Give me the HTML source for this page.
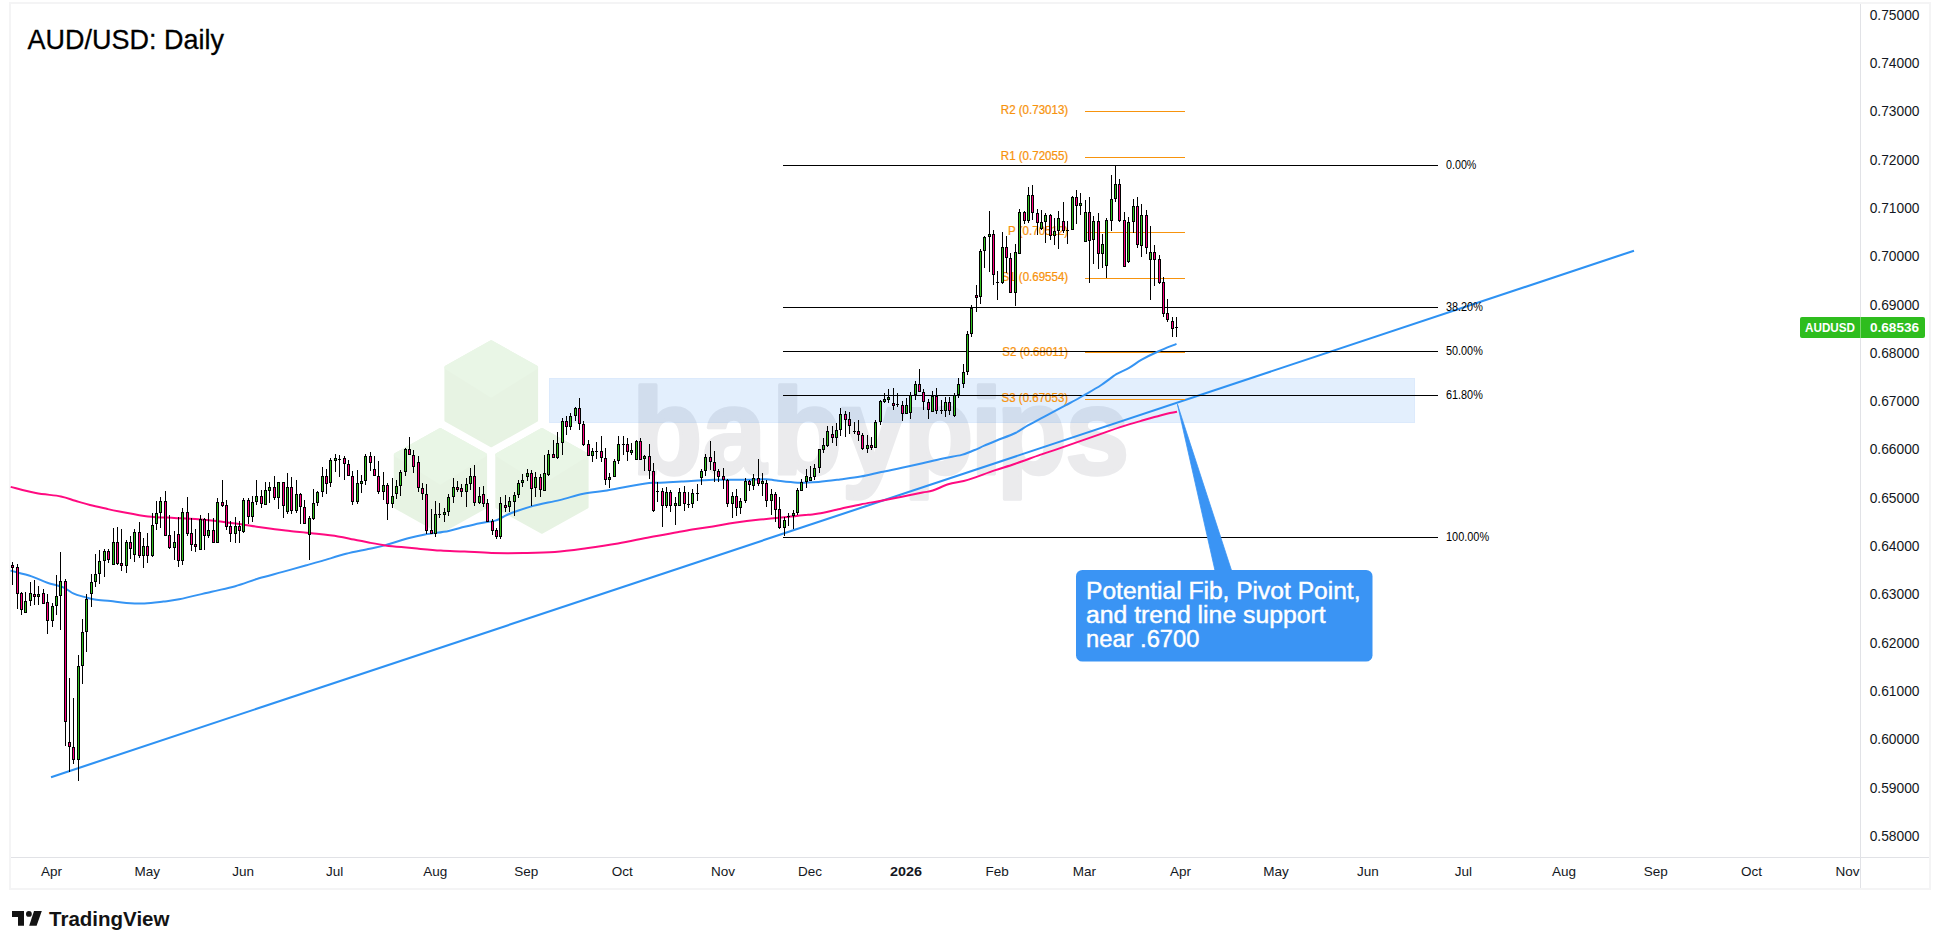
<!DOCTYPE html>
<html><head><meta charset="utf-8"><title>AUD/USD: Daily</title>
<style>html,body{margin:0;padding:0;background:#fff}body{width:1940px;height:949px;position:relative;overflow:hidden}</style></head>
<body>
<svg width="1940" height="949" viewBox="0 0 1940 949" style="position:absolute;left:0;top:0">
<g shape-rendering="crispEdges">
<rect x="9" y="2" width="1922" height="2" fill="#f4f4f5"/>
<rect x="9" y="888" width="1922" height="2" fill="#f4f4f5"/>
<rect x="9" y="2" width="2" height="888" fill="#f4f4f5"/>
<rect x="1929" y="2" width="2" height="888" fill="#f4f4f5"/>
<rect x="1860" y="4" width="1" height="884" fill="#e1e2e6"/>
<rect x="11" y="857" width="1918" height="1" fill="#e1e2e6"/>
</g>
<g>
<polygon points="491.2,342.1 536.3,367.4 536.3,420.2 491.2,445.5 446.2,420.2 446.2,367.4" fill="#e7f3e3" stroke="#e7f3e3" stroke-width="3.6" stroke-linejoin="round"/><polygon points="491.2,342.1 536.3,367.4 491.2,395.7 446.2,367.4" fill="#e9f6e6" stroke="#e9f6e6" stroke-width="3.6" stroke-linejoin="round"/>
<polygon points="440.3,429.8 485.3,454.8 485.3,507.0 440.3,532.0 395.6,507.0 395.6,454.8" fill="#e7f3e3" stroke="#e7f3e3" stroke-width="3.6" stroke-linejoin="round"/><polygon points="440.3,429.8 485.3,454.8 440.3,482.8 395.6,454.8" fill="#e9f6e6" stroke="#e9f6e6" stroke-width="3.6" stroke-linejoin="round"/>
<polygon points="541.9,429.8 586.8,454.8 586.8,507.0 541.9,532.0 497.1,507.0 497.1,454.8" fill="#e7f3e3" stroke="#e7f3e3" stroke-width="3.6" stroke-linejoin="round"/><polygon points="541.9,429.8 586.8,454.8 541.9,482.8 497.1,454.8" fill="#e9f6e6" stroke="#e9f6e6" stroke-width="3.6" stroke-linejoin="round"/>
</g>
<text id="wm" transform="translate(0,474.3) scale(0.944,1)" x="669.4 743.8 817.5 891.4 956.8 1028.1 1055.6 1128.4" y="0" font-family="'Liberation Sans', sans-serif" font-weight="bold" font-size="122" fill="#ebebed" stroke="#ebebed" stroke-width="3.5" stroke-linejoin="round">babypips</text>
<rect x="549" y="378" width="866" height="45" fill="#2c8af0" fill-opacity="0.135" shape-rendering="crispEdges"/>
<rect x="549.5" y="378.5" width="865" height="44" fill="none" stroke="#2c8af0" stroke-opacity="0.04" shape-rendering="crispEdges"/>
<text class="pl" transform="translate(1068.2,114.2) scale(0.963,1)" text-anchor="end" font-family="'Liberation Sans', sans-serif" font-size="12" fill="#f7930d" stroke="#f7930d" stroke-width="0.25">R2 (0.73013)</text>
<text class="pl" transform="translate(1068.2,160.4) scale(0.963,1)" text-anchor="end" font-family="'Liberation Sans', sans-serif" font-size="12" fill="#f7930d" stroke="#f7930d" stroke-width="0.25">R1 (0.72055)</text>
<text class="pl" transform="translate(1068.2,234.9) scale(0.963,1)" text-anchor="end" font-family="'Liberation Sans', sans-serif" font-size="12" fill="#f7930d" stroke="#f7930d" stroke-width="0.25">P (0.70512)</text>
<text class="pl" transform="translate(1068.2,281.2) scale(0.963,1)" text-anchor="end" font-family="'Liberation Sans', sans-serif" font-size="12" fill="#f7930d" stroke="#f7930d" stroke-width="0.25">S1 (0.69554)</text>
<text class="pl" transform="translate(1068.2,355.7) scale(0.963,1)" text-anchor="end" font-family="'Liberation Sans', sans-serif" font-size="12" fill="#f7930d" stroke="#f7930d" stroke-width="0.25">S2 (0.68011)</text>
<text class="pl" transform="translate(1068.2,402.0) scale(0.963,1)" text-anchor="end" font-family="'Liberation Sans', sans-serif" font-size="12" fill="#f7930d" stroke="#f7930d" stroke-width="0.25">S3 (0.67053)</text>
<line x1="51" y1="777.2" x2="1634" y2="250.7" stroke="#2e92f3" stroke-width="2.1"/>
<g shape-rendering="crispEdges">
<rect x="1085" y="111" width="100" height="1" fill="#f7930d"/>
<rect x="1085" y="157" width="100" height="1" fill="#f7930d"/>
<rect x="1085" y="232" width="100" height="1" fill="#f7930d"/>
<rect x="1085" y="278" width="100" height="1" fill="#f7930d"/>
<rect x="1085" y="352" width="100" height="1" fill="#f7930d"/>
<rect x="1085" y="399" width="100" height="1" fill="#f7930d"/>
<rect x="783" y="165" width="655" height="1" fill="#000"/>
<rect x="783" y="307" width="655" height="1" fill="#000"/>
<rect x="783" y="351" width="655" height="1" fill="#000"/>
<rect x="783" y="395" width="655" height="1" fill="#000"/>
<rect x="783" y="537" width="655" height="1" fill="#000"/>
</g>
<text class="fl" x="1446" y="169" font-family="'Liberation Sans', sans-serif" font-size="12" fill="#000" textLength="30.4" lengthAdjust="spacingAndGlyphs">0.00%</text>
<text class="fl" x="1446" y="311" font-family="'Liberation Sans', sans-serif" font-size="12" fill="#000" textLength="36.8" lengthAdjust="spacingAndGlyphs">38.20%</text>
<text class="fl" x="1446" y="355" font-family="'Liberation Sans', sans-serif" font-size="12" fill="#000" textLength="36.8" lengthAdjust="spacingAndGlyphs">50.00%</text>
<text class="fl" x="1446" y="399" font-family="'Liberation Sans', sans-serif" font-size="12" fill="#000" textLength="36.8" lengthAdjust="spacingAndGlyphs">61.80%</text>
<text class="fl" x="1446" y="541" font-family="'Liberation Sans', sans-serif" font-size="12" fill="#000" textLength="43.1" lengthAdjust="spacingAndGlyphs">100.00%</text>
<path d="M10.5,570.6 C14.0,571.6 25.5,574.4 31.6,576.4 C37.8,578.4 42.1,580.9 47.4,582.7 C52.7,584.5 58.8,585.6 63.2,587.4 C67.6,589.2 70.3,592.1 73.8,593.7 C77.3,595.3 80.8,595.9 84.3,596.9 C87.8,597.9 90.4,598.8 94.8,599.5 C99.2,600.2 105.3,600.5 110.6,601.1 C115.9,601.7 120.8,602.5 126.4,602.9 C132.0,603.3 138.2,603.7 144.4,603.5 C150.6,603.3 157.5,602.3 163.3,601.6 C169.1,600.9 171.1,600.9 179.1,599.3 C187.1,597.6 202.2,593.9 211.6,591.7 C221.0,589.5 227.4,588.4 235.3,586.2 C243.2,584.0 251.1,580.7 259.0,578.3 C266.9,575.9 274.8,574.1 282.7,571.9 C290.6,569.7 299.8,567.1 306.4,565.3 C313.0,563.5 315.6,562.8 322.2,560.9 C328.8,559.0 338.1,555.8 346.0,553.8 C353.9,551.8 363.1,550.2 369.7,548.7 C376.3,547.2 378.9,546.9 385.5,545.1 C392.1,543.3 402.6,539.8 409.2,538.0 C415.8,536.2 418.4,535.7 425.0,534.5 C431.6,533.3 442.1,532.2 448.7,530.9 C455.3,529.6 459.3,528.1 464.5,526.8 C469.7,525.5 474.9,524.2 480.0,523.2 C485.1,522.2 491.5,521.6 495.3,520.6 C499.1,519.6 500.2,518.3 503.0,517.0 C505.8,515.7 507.1,514.6 512.1,512.7 C517.1,510.9 525.3,508.0 533.2,505.9 C541.1,503.8 551.2,502.1 559.6,500.1 C568.0,498.1 575.5,495.3 583.4,493.7 C591.3,492.1 599.6,491.6 607.0,490.4 C614.4,489.2 621.0,487.6 628.0,486.4 C635.0,485.1 643.8,483.5 649.1,482.9 C654.4,482.3 654.6,483.0 660.0,482.8 C665.4,482.6 672.7,482.1 681.6,481.6 C690.5,481.1 702.7,480.1 713.2,479.8 C723.7,479.5 736.0,479.9 744.8,479.8 C753.6,479.7 760.6,479.1 765.9,479.2 C771.2,479.3 771.1,480.0 776.4,480.6 C781.7,481.2 790.5,482.5 797.5,482.7 C804.5,482.9 811.5,482.4 818.6,481.9 C825.7,481.3 833.0,480.3 840.0,479.4 C847.0,478.5 853.7,477.8 860.6,476.6 C867.5,475.4 874.3,473.5 881.2,472.0 C888.1,470.5 895.0,469.3 901.9,467.8 C908.8,466.3 915.6,464.8 922.5,463.2 C929.4,461.6 936.6,459.8 943.1,458.4 C949.6,457.0 956.5,456.2 961.6,454.9 C966.8,453.5 970.2,451.8 974.0,450.3 C977.8,448.8 980.5,447.3 984.3,445.7 C988.1,444.1 991.5,442.6 996.7,440.5 C1001.9,438.4 1010.1,435.5 1015.3,433.0 C1020.5,430.5 1023.1,428.1 1027.9,425.4 C1032.8,422.7 1038.1,420.0 1044.4,416.6 C1050.7,413.2 1059.4,408.7 1065.9,405.2 C1072.4,401.7 1077.7,398.9 1083.6,395.5 C1089.5,392.1 1095.8,388.6 1101.3,385.0 C1106.8,381.4 1111.8,377.1 1116.4,374.2 C1121.0,371.3 1124.9,370.3 1129.1,367.9 C1133.3,365.5 1136.9,362.4 1141.7,359.7 C1146.5,357.0 1152.3,354.1 1158.1,351.5 C1163.9,348.9 1173.4,345.2 1176.5,343.9" fill="none" stroke="#3594f3" stroke-width="2.0" stroke-linejoin="round" stroke-linecap="butt"/>
<path d="M10.7,486.9 C14.9,487.9 27.4,491.4 35.8,493.0 C44.2,494.6 54.3,495.1 60.9,496.4 C67.5,497.7 70.5,499.4 75.3,500.8 C80.1,502.2 84.6,503.6 90.0,505.0 C95.4,506.4 102.6,507.9 107.5,509.0 C112.4,510.1 112.8,510.2 119.5,511.4 C126.2,512.6 138.9,515.3 148.0,516.4 C157.1,517.5 166.4,517.5 174.3,517.9 C182.2,518.3 188.4,518.5 195.4,519.0 C202.4,519.5 209.4,520.1 216.4,520.9 C223.4,521.7 230.5,522.7 237.5,523.7 C244.5,524.7 252.4,526.1 258.6,527.0 C264.8,527.9 269.6,528.6 274.8,529.3 C280.0,530.0 283.9,530.4 290.0,531.1 C296.1,531.8 303.6,532.4 311.6,533.3 C319.6,534.2 330.9,535.4 338.0,536.4 C345.1,537.4 348.6,538.5 353.9,539.5 C359.2,540.5 364.4,541.7 369.7,542.7 C375.0,543.7 380.2,544.7 385.5,545.4 C390.8,546.1 396.0,546.6 401.3,547.1 C406.6,547.6 410.5,548.0 417.1,548.6 C423.7,549.2 432.9,550.1 440.8,550.6 C448.7,551.1 456.0,551.1 464.5,551.5 C473.0,551.9 481.8,552.8 491.6,553.0 C501.4,553.2 512.7,553.2 523.2,553.0 C533.7,552.8 544.3,552.7 554.8,551.9 C565.3,551.1 575.9,549.6 586.4,548.2 C596.9,546.8 607.5,545.3 618.0,543.5 C628.5,541.7 639.2,539.2 649.7,537.2 C660.2,535.2 674.2,532.9 681.3,531.6 C688.4,530.3 686.8,530.5 692.1,529.6 C697.4,528.8 705.9,527.6 712.9,526.5 C719.9,525.4 726.4,523.9 734.3,522.7 C742.1,521.6 751.2,520.5 760.0,519.6 C768.8,518.7 779.0,517.9 787.0,517.1 C795.0,516.3 802.7,515.4 808.0,514.8 C813.3,514.2 813.3,514.6 818.6,513.6 C823.9,512.6 833.0,510.4 840.0,508.9 C847.0,507.4 853.7,505.8 860.6,504.4 C867.5,503.0 874.3,502.1 881.2,500.8 C888.1,499.5 895.0,498.1 901.9,496.7 C908.8,495.3 917.4,493.6 922.5,492.6 C927.6,491.6 928.5,491.9 932.8,490.5 C937.1,489.1 943.1,485.9 948.2,484.3 C953.4,482.7 959.1,482.2 963.7,481.0 C968.4,479.8 971.0,478.9 976.1,477.1 C981.2,475.3 988.1,472.6 994.6,470.4 C1001.1,468.2 1007.7,466.3 1015.3,463.7 C1022.9,461.1 1032.5,457.5 1040.0,454.9 C1047.5,452.3 1050.2,451.6 1060.2,448.1 C1070.2,444.6 1090.3,437.6 1100.3,434.1 C1110.3,430.6 1113.6,429.3 1120.3,427.1 C1127.0,424.9 1133.6,423.0 1140.3,421.1 C1147.0,419.2 1155.3,416.8 1160.3,415.5 C1165.2,414.2 1167.2,413.7 1170.0,413.1 C1172.8,412.5 1175.8,412.0 1177.0,411.8" fill="none" stroke="#ff0a80" stroke-width="2.0" stroke-linejoin="round" stroke-linecap="butt"/>
<g shape-rendering="crispEdges"><path fill="#000" d="M12,562h1v23h-1zM17,564h1v45h-1zM21,592h1v23h-1zM25,592h1v21h-1zM30,582h1v24h-1zM34,580h1v25h-1zM38,586h1v19h-1zM43,589h1v15h-1zM47,594h1v40h-1zM52,603h1v24h-1zM56,575h1v40h-1zM60,552h1v78h-1zM65,579h1v167h-1zM69,678h1v94h-1zM73,698h1v66h-1zM78,655h1v126h-1zM82,619h1v65h-1zM86,594h1v58h-1zM91,574h1v33h-1zM95,554h1v33h-1zM99,550h1v34h-1zM104,549h1v28h-1zM108,549h1v14h-1zM113,528h1v37h-1zM117,527h1v38h-1zM121,529h1v42h-1zM126,540h1v33h-1zM130,536h1v23h-1zM134,529h1v33h-1zM139,522h1v36h-1zM143,538h1v30h-1zM147,533h1v30h-1zM152,513h1v44h-1zM156,501h1v29h-1zM160,497h1v31h-1zM165,491h1v45h-1zM169,515h1v34h-1zM174,531h1v29h-1zM178,517h1v50h-1zM182,508h1v57h-1zM187,497h1v39h-1zM191,518h1v33h-1zM195,529h1v23h-1zM200,515h1v35h-1zM204,518h1v32h-1zM208,513h1v25h-1zM213,518h1v25h-1zM217,498h1v45h-1zM222,480h1v27h-1zM226,500h1v30h-1zM230,521h1v21h-1zM235,517h1v26h-1zM239,521h1v22h-1zM243,498h1v35h-1zM248,498h1v26h-1zM252,496h1v26h-1zM256,480h1v25h-1zM261,490h1v18h-1zM265,482h1v23h-1zM269,482h1v21h-1zM274,476h1v24h-1zM278,482h1v27h-1zM283,482h1v36h-1zM287,473h1v41h-1zM291,477h1v37h-1zM296,480h1v33h-1zM300,493h1v31h-1zM304,500h1v24h-1zM309,516h1v44h-1zM313,489h1v31h-1zM317,491h1v15h-1zM322,467h1v30h-1zM326,469h1v25h-1zM330,458h1v29h-1zM335,454h1v18h-1zM339,455h1v22h-1zM344,456h1v24h-1zM348,460h1v16h-1zM352,471h1v34h-1zM357,470h1v34h-1zM361,475h1v18h-1zM365,454h1v31h-1zM370,452h1v19h-1zM374,456h1v20h-1zM378,461h1v33h-1zM383,472h1v28h-1zM387,483h1v37h-1zM392,478h1v30h-1zM396,480h1v19h-1zM400,470h1v26h-1zM405,448h1v28h-1zM409,437h1v18h-1zM413,450h1v23h-1zM418,456h1v36h-1zM422,483h1v17h-1zM426,484h1v50h-1zM431,509h1v25h-1zM435,501h1v36h-1zM439,503h1v15h-1zM444,508h1v14h-1zM448,494h1v22h-1zM453,478h1v25h-1zM457,481h1v11h-1zM461,484h1v13h-1zM466,478h1v29h-1zM470,468h1v22h-1zM474,465h1v41h-1zM479,487h1v17h-1zM483,486h1v21h-1zM487,499h1v23h-1zM492,519h1v16h-1zM496,528h1v11h-1zM500,497h1v42h-1zM505,495h1v17h-1zM509,497h1v15h-1zM514,492h1v24h-1zM518,480h1v18h-1zM522,474h1v13h-1zM527,469h1v12h-1zM531,470h1v36h-1zM535,472h1v25h-1zM540,474h1v23h-1zM544,455h1v36h-1zM548,450h1v26h-1zM553,440h1v18h-1zM557,432h1v27h-1zM562,418h1v37h-1zM566,416h1v19h-1zM570,413h1v17h-1zM575,407h1v14h-1zM579,398h1v32h-1zM583,421h1v25h-1zM588,440h1v16h-1zM592,448h1v14h-1zM596,442h1v17h-1zM601,436h1v26h-1zM605,448h1v37h-1zM609,473h1v15h-1zM614,459h1v18h-1zM618,436h1v28h-1zM623,436h1v19h-1zM627,438h1v23h-1zM631,443h1v12h-1zM636,440h1v20h-1zM640,438h1v22h-1zM644,455h1v16h-1zM649,444h1v35h-1zM653,463h1v49h-1zM657,482h1v20h-1zM662,488h1v39h-1zM666,487h1v21h-1zM670,490h1v22h-1zM675,497h1v28h-1zM679,488h1v18h-1zM684,486h1v25h-1zM688,492h1v16h-1zM692,489h1v19h-1zM697,484h1v17h-1zM701,469h1v16h-1zM705,454h1v22h-1zM710,441h1v29h-1zM714,451h1v31h-1zM718,469h1v13h-1zM723,468h1v21h-1zM727,479h1v28h-1zM732,492h1v26h-1zM736,489h1v27h-1zM740,498h1v16h-1zM745,478h1v25h-1zM749,480h1v11h-1zM753,474h1v16h-1zM758,459h1v27h-1zM762,473h1v23h-1zM766,480h1v27h-1zM771,489h1v26h-1zM775,492h1v30h-1zM779,497h1v32h-1zM784,517h1v19h-1zM788,513h1v13h-1zM793,510h1v19h-1zM797,488h1v27h-1zM801,479h1v12h-1zM806,469h1v19h-1zM810,466h1v15h-1zM814,464h1v16h-1zM819,449h1v24h-1zM823,438h1v15h-1zM827,426h1v21h-1zM832,426h1v17h-1zM836,423h1v23h-1zM840,408h1v28h-1zM845,411h1v26h-1zM849,412h1v22h-1zM854,422h1v12h-1zM858,420h1v21h-1zM862,433h1v17h-1zM867,435h1v18h-1zM871,437h1v13h-1zM875,420h1v28h-1zM880,400h1v25h-1zM884,393h1v10h-1zM888,389h1v14h-1zM893,388h1v22h-1zM897,393h1v14h-1zM902,401h1v20h-1zM906,398h1v16h-1zM910,392h1v27h-1zM915,381h1v19h-1zM919,369h1v23h-1zM923,389h1v21h-1zM928,399h1v20h-1zM932,391h1v21h-1zM936,388h1v26h-1zM941,400h1v14h-1zM945,397h1v20h-1zM949,397h1v18h-1zM954,393h1v24h-1zM958,378h1v20h-1zM963,364h1v24h-1zM967,331h1v44h-1zM971,305h1v32h-1zM976,285h1v27h-1zM980,249h1v55h-1zM984,236h1v32h-1zM989,211h1v61h-1zM993,230h1v55h-1zM997,271h1v29h-1zM1002,232h1v52h-1zM1006,236h1v37h-1zM1010,253h1v40h-1zM1015,244h1v62h-1zM1019,209h1v45h-1zM1024,211h1v13h-1zM1028,187h1v36h-1zM1032,185h1v35h-1zM1037,209h1v26h-1zM1041,210h1v20h-1zM1045,213h1v30h-1zM1050,214h1v26h-1zM1054,218h1v27h-1zM1058,211h1v38h-1zM1063,202h1v31h-1zM1067,221h1v23h-1zM1072,196h1v34h-1zM1076,190h1v34h-1zM1080,193h1v22h-1zM1085,200h1v42h-1zM1089,197h1v86h-1zM1093,216h1v48h-1zM1098,213h1v56h-1zM1102,234h1v34h-1zM1106,218h1v60h-1zM1111,175h1v56h-1zM1115,166h1v36h-1zM1119,179h1v43h-1zM1124,212h1v55h-1zM1128,217h1v46h-1zM1133,199h1v34h-1zM1137,197h1v51h-1zM1141,204h1v53h-1zM1146,210h1v44h-1zM1150,226h1v74h-1zM1154,245h1v41h-1zM1159,255h1v29h-1zM1163,277h1v40h-1zM1167,299h1v23h-1zM1172,317h1v20h-1zM1176,317h1v20h-1zM11,565h3v3h-3zM16,567h3v27h-3zM20,593h3v17h-3zM24,601h3v12h-3zM29,593h3v8h-3zM33,594h3v3h-3zM37,594h3v3h-3zM42,593h3v11h-3zM46,602h3v19h-3zM51,606h3v15h-3zM55,596h3v10h-3zM59,581h3v15h-3zM64,581h3v141h-3zM68,742h3v5h-3zM72,747h3v13h-3zM77,666h3v94h-3zM81,632h3v34h-3zM85,599h3v33h-3zM90,582h3v12h-3zM94,574h3v8h-3zM98,561h3v13h-3zM103,551h3v10h-3zM107,551h3v9h-3zM112,542h3v23h-3zM116,542h3v22h-3zM120,563h3v3h-3zM125,542h3v24h-3zM129,542h3v7h-3zM133,532h3v23h-3zM138,532h3v24h-3zM142,546h3v10h-3zM146,546h3v10h-3zM151,525h3v31h-3zM155,513h3v11h-3zM159,501h3v12h-3zM164,501h3v35h-3zM168,535h3v13h-3zM173,542h3v6h-3zM177,534h3v27h-3zM181,512h3v49h-3zM186,512h3v22h-3zM190,533h3v12h-3zM194,544h3v3h-3zM199,519h3v31h-3zM203,519h3v17h-3zM207,530h3v6h-3zM212,530h3v13h-3zM216,502h3v41h-3zM221,502h3v4h-3zM225,505h3v22h-3zM229,526h3v8h-3zM234,526h3v8h-3zM238,526h3v5h-3zM242,500h3v32h-3zM247,500h3v17h-3zM251,502h3v15h-3zM255,496h3v6h-3zM260,496h3v8h-3zM264,490h3v15h-3zM268,487h3v4h-3zM273,487h3v11h-3zM277,482h3v16h-3zM282,482h3v24h-3zM286,487h3v25h-3zM290,487h3v24h-3zM295,494h3v17h-3zM299,494h3v13h-3zM303,507h3v17h-3zM308,518h3v17h-3zM312,503h3v16h-3zM316,492h3v11h-3zM321,476h3v16h-3zM325,476h3v8h-3zM329,460h3v23h-3zM334,458h3v3h-3zM338,459h3v1h-3zM343,458h3v6h-3zM347,464h3v12h-3zM351,476h3v26h-3zM356,483h3v19h-3zM360,481h3v3h-3zM364,456h3v25h-3zM369,456h3v7h-3zM373,469h3v7h-3zM377,476h3v16h-3zM382,485h3v7h-3zM386,485h3v19h-3zM391,496h3v8h-3zM395,486h3v8h-3zM399,472h3v14h-3zM404,449h3v23h-3zM408,449h3v6h-3zM412,455h3v12h-3zM417,462h3v26h-3zM421,488h3v6h-3zM425,494h3v37h-3zM430,530h3v4h-3zM434,514h3v20h-3zM438,514h3v1h-3zM443,512h3v3h-3zM447,497h3v15h-3zM452,487h3v10h-3zM456,487h3v3h-3zM460,488h3v4h-3zM465,484h3v8h-3zM469,476h3v8h-3zM473,476h3v27h-3zM478,496h3v7h-3zM482,494h3v10h-3zM486,503h3v19h-3zM491,521h3v10h-3zM495,530h3v7h-3zM499,503h3v34h-3zM504,505h3v3h-3zM508,501h3v6h-3zM513,495h3v7h-3zM517,483h3v12h-3zM521,480h3v3h-3zM526,473h3v4h-3zM530,473h3v16h-3zM534,477h3v11h-3zM539,477h3v13h-3zM543,473h3v18h-3zM547,454h3v21h-3zM552,454h3v4h-3zM556,443h3v15h-3zM561,421h3v22h-3zM565,421h3v6h-3zM569,416h3v11h-3zM574,408h3v8h-3zM578,408h3v16h-3zM582,424h3v21h-3zM587,444h3v12h-3zM591,451h3v5h-3zM595,451h3v1h-3zM600,451h3v7h-3zM604,458h3v22h-3zM608,477h3v3h-3zM613,461h3v16h-3zM617,444h3v17h-3zM622,444h3v1h-3zM626,444h3v8h-3zM630,450h3v3h-3zM635,441h3v19h-3zM639,441h3v19h-3zM643,456h3v3h-3zM648,456h3v15h-3zM652,471h3v40h-3zM656,491h3v1h-3zM661,491h3v15h-3zM665,492h3v14h-3zM669,492h3v14h-3zM674,503h3v3h-3zM678,492h3v14h-3zM683,492h3v12h-3zM687,504h3v1h-3zM691,493h3v11h-3zM696,493h3v1h-3zM700,471h3v7h-3zM704,457h3v14h-3zM709,457h3v5h-3zM713,462h3v9h-3zM717,471h3v6h-3zM722,476h3v4h-3zM726,480h3v24h-3zM731,496h3v8h-3zM735,496h3v12h-3zM739,501h3v7h-3zM744,481h3v20h-3zM748,481h3v4h-3zM752,478h3v8h-3zM757,478h3v6h-3zM761,481h3v3h-3zM765,483h3v18h-3zM770,494h3v7h-3zM774,494h3v16h-3zM778,509h3v19h-3zM783,520h3v8h-3zM787,516h3v1h-3zM792,513h3v3h-3zM796,490h3v23h-3zM800,482h3v9h-3zM805,476h3v6h-3zM809,477h3v4h-3zM813,468h3v9h-3zM818,449h3v19h-3zM822,445h3v5h-3zM826,431h3v15h-3zM831,434h3v4h-3zM835,430h3v8h-3zM839,414h3v16h-3zM844,414h3v6h-3zM848,419h3v7h-3zM853,431h3v1h-3zM857,431h3v4h-3zM861,435h3v14h-3zM866,445h3v4h-3zM870,445h3v3h-3zM874,422h3v26h-3zM879,401h3v21h-3zM883,399h3v3h-3zM887,397h3v3h-3zM892,403h3v3h-3zM896,404h3v1h-3zM901,405h3v9h-3zM905,405h3v9h-3zM909,395h3v18h-3zM914,384h3v11h-3zM918,384h3v8h-3zM922,392h3v10h-3zM927,402h3v8h-3zM931,396h3v16h-3zM935,396h3v15h-3zM940,410h3v1h-3zM944,402h3v9h-3zM948,402h3v9h-3zM953,395h3v21h-3zM957,384h3v11h-3zM962,372h3v12h-3zM966,334h3v38h-3zM970,308h3v26h-3zM975,295h3v3h-3zM979,251h3v46h-3zM983,237h3v14h-3zM988,234h3v3h-3zM992,234h3v41h-3zM996,282h3v1h-3zM1001,247h3v36h-3zM1005,247h3v11h-3zM1009,258h3v35h-3zM1014,252h3v41h-3zM1018,212h3v42h-3zM1023,212h3v9h-3zM1027,195h3v26h-3zM1031,195h3v18h-3zM1036,213h3v10h-3zM1040,222h3v7h-3zM1044,215h3v7h-3zM1049,215h3v21h-3zM1053,231h3v5h-3zM1057,218h3v13h-3zM1062,221h3v10h-3zM1066,230h3v1h-3zM1071,197h3v33h-3zM1075,197h3v9h-3zM1079,203h3v3h-3zM1084,212h3v30h-3zM1088,212h3v29h-3zM1092,221h3v19h-3zM1097,221h3v33h-3zM1101,244h3v10h-3zM1105,220h3v46h-3zM1110,199h3v22h-3zM1114,184h3v15h-3zM1118,184h3v37h-3zM1123,220h3v47h-3zM1127,222h3v40h-3zM1132,206h3v16h-3zM1136,206h3v39h-3zM1140,215h3v31h-3zM1145,215h3v33h-3zM1149,252h3v8h-3zM1153,252h3v8h-3zM1158,259h3v24h-3zM1162,282h3v32h-3zM1166,313h3v7h-3zM1171,321h3v8h-3zM1175,327h3v1h-3z"/><path fill="#31c01f" d="M25,602h1v10h-1zM30,594h1v6h-1zM38,595h1v1h-1zM52,607h1v13h-1zM56,597h1v8h-1zM60,582h1v13h-1zM78,667h1v92h-1zM82,633h1v32h-1zM86,600h1v31h-1zM91,583h1v10h-1zM95,575h1v6h-1zM99,562h1v11h-1zM104,552h1v8h-1zM113,543h1v21h-1zM126,543h1v22h-1zM134,533h1v21h-1zM143,547h1v8h-1zM152,526h1v29h-1zM156,514h1v9h-1zM160,502h1v10h-1zM174,543h1v4h-1zM182,513h1v47h-1zM200,520h1v29h-1zM208,531h1v4h-1zM217,503h1v39h-1zM235,527h1v6h-1zM243,501h1v30h-1zM252,503h1v13h-1zM256,497h1v4h-1zM265,491h1v13h-1zM269,488h1v2h-1zM278,483h1v14h-1zM287,488h1v23h-1zM296,495h1v15h-1zM309,519h1v15h-1zM313,504h1v14h-1zM317,493h1v9h-1zM322,477h1v14h-1zM330,461h1v21h-1zM335,459h1v1h-1zM357,484h1v17h-1zM361,482h1v1h-1zM365,457h1v23h-1zM383,486h1v5h-1zM392,497h1v6h-1zM396,487h1v6h-1zM400,473h1v12h-1zM405,450h1v21h-1zM435,515h1v18h-1zM444,513h1v1h-1zM448,498h1v13h-1zM453,488h1v8h-1zM466,485h1v6h-1zM470,477h1v6h-1zM479,497h1v5h-1zM500,504h1v32h-1zM509,502h1v4h-1zM514,496h1v5h-1zM518,484h1v10h-1zM522,481h1v1h-1zM527,474h1v2h-1zM535,478h1v9h-1zM544,474h1v16h-1zM548,455h1v19h-1zM557,444h1v13h-1zM562,422h1v20h-1zM570,417h1v9h-1zM575,409h1v6h-1zM592,452h1v3h-1zM609,478h1v1h-1zM614,462h1v14h-1zM618,445h1v15h-1zM631,451h1v1h-1zM636,442h1v17h-1zM644,457h1v1h-1zM666,493h1v12h-1zM675,504h1v1h-1zM679,493h1v12h-1zM692,494h1v9h-1zM701,472h1v5h-1zM705,458h1v12h-1zM732,497h1v6h-1zM740,502h1v5h-1zM745,482h1v18h-1zM753,479h1v6h-1zM762,482h1v1h-1zM771,495h1v5h-1zM784,521h1v6h-1zM793,514h1v1h-1zM797,491h1v21h-1zM801,483h1v7h-1zM806,477h1v4h-1zM810,478h1v2h-1zM814,469h1v7h-1zM819,450h1v17h-1zM823,446h1v3h-1zM827,432h1v13h-1zM836,431h1v6h-1zM840,415h1v14h-1zM867,446h1v2h-1zM875,423h1v24h-1zM880,402h1v19h-1zM884,400h1v1h-1zM888,398h1v1h-1zM906,406h1v7h-1zM910,396h1v16h-1zM915,385h1v9h-1zM932,397h1v14h-1zM945,403h1v7h-1zM954,396h1v19h-1zM958,385h1v9h-1zM963,373h1v10h-1zM967,335h1v36h-1zM971,309h1v24h-1zM980,252h1v44h-1zM984,238h1v12h-1zM989,235h1v1h-1zM1002,248h1v34h-1zM1015,253h1v39h-1zM1019,213h1v40h-1zM1028,196h1v24h-1zM1041,223h1v5h-1zM1045,216h1v5h-1zM1054,232h1v3h-1zM1058,219h1v11h-1zM1072,198h1v31h-1zM1080,204h1v1h-1zM1085,213h1v28h-1zM1093,222h1v17h-1zM1102,245h1v8h-1zM1106,221h1v44h-1zM1111,200h1v20h-1zM1115,185h1v13h-1zM1128,223h1v38h-1zM1133,207h1v14h-1zM1141,216h1v29h-1zM1150,253h1v6h-1z"/><path fill="#ff007f" d="M12,566h1v1h-1zM17,568h1v25h-1zM21,594h1v15h-1zM34,595h1v1h-1zM43,594h1v9h-1zM47,603h1v17h-1zM65,582h1v139h-1zM69,743h1v3h-1zM73,748h1v11h-1zM108,552h1v7h-1zM117,543h1v20h-1zM121,564h1v1h-1zM130,543h1v5h-1zM139,533h1v22h-1zM147,547h1v8h-1zM165,502h1v33h-1zM169,536h1v11h-1zM178,535h1v25h-1zM187,513h1v20h-1zM191,534h1v10h-1zM195,545h1v1h-1zM204,520h1v15h-1zM213,531h1v11h-1zM222,503h1v2h-1zM226,506h1v20h-1zM230,527h1v6h-1zM239,527h1v3h-1zM248,501h1v15h-1zM261,497h1v6h-1zM274,488h1v9h-1zM283,483h1v22h-1zM291,488h1v22h-1zM300,495h1v11h-1zM304,508h1v15h-1zM326,477h1v6h-1zM344,459h1v4h-1zM348,465h1v10h-1zM352,477h1v24h-1zM370,457h1v5h-1zM374,470h1v5h-1zM378,477h1v14h-1zM387,486h1v17h-1zM409,450h1v4h-1zM413,456h1v10h-1zM418,463h1v24h-1zM422,489h1v4h-1zM426,495h1v35h-1zM431,531h1v2h-1zM457,488h1v1h-1zM461,489h1v2h-1zM474,477h1v25h-1zM483,495h1v8h-1zM487,504h1v17h-1zM492,522h1v8h-1zM496,531h1v5h-1zM505,506h1v1h-1zM531,474h1v14h-1zM540,478h1v11h-1zM553,455h1v2h-1zM566,422h1v4h-1zM579,409h1v14h-1zM583,425h1v19h-1zM588,445h1v10h-1zM601,452h1v5h-1zM605,459h1v20h-1zM627,445h1v6h-1zM640,442h1v17h-1zM649,457h1v13h-1zM653,472h1v38h-1zM662,492h1v13h-1zM670,493h1v12h-1zM684,493h1v10h-1zM710,458h1v3h-1zM714,463h1v7h-1zM718,472h1v4h-1zM723,477h1v2h-1zM727,481h1v22h-1zM736,497h1v10h-1zM749,482h1v2h-1zM758,479h1v4h-1zM766,484h1v16h-1zM775,495h1v14h-1zM779,510h1v17h-1zM832,435h1v2h-1zM845,415h1v4h-1zM849,420h1v5h-1zM858,432h1v2h-1zM862,436h1v12h-1zM871,446h1v1h-1zM893,404h1v1h-1zM902,406h1v7h-1zM919,385h1v6h-1zM923,393h1v8h-1zM928,403h1v6h-1zM936,397h1v13h-1zM949,403h1v7h-1zM976,296h1v1h-1zM993,235h1v39h-1zM1006,248h1v9h-1zM1010,259h1v33h-1zM1024,213h1v7h-1zM1032,196h1v16h-1zM1037,214h1v8h-1zM1050,216h1v19h-1zM1063,222h1v8h-1zM1076,198h1v7h-1zM1089,213h1v27h-1zM1098,222h1v31h-1zM1119,185h1v35h-1zM1124,221h1v45h-1zM1137,207h1v37h-1zM1146,216h1v31h-1zM1154,253h1v6h-1zM1159,260h1v22h-1zM1163,283h1v30h-1zM1167,314h1v5h-1zM1172,322h1v6h-1z"/></g>
<polygon points="1177.4,404.2 1215.1,571 1231.7,571" fill="#3a94f4" stroke="#3a94f4" stroke-width="0.8" stroke-linejoin="round"/>
<rect x="1076" y="570" width="296.5" height="91.6" rx="6.4" ry="6.4" fill="#3a94f4"/>
<text class="ct" x="1086" y="598.5" font-family="'Liberation Sans', sans-serif" font-size="23" fill="#fff" stroke="#fff" stroke-width="0.45" textLength="274.5" lengthAdjust="spacingAndGlyphs">Potential Fib, Pivot Point,</text>
<text class="ct" x="1086" y="622.5" font-family="'Liberation Sans', sans-serif" font-size="23" fill="#fff" stroke="#fff" stroke-width="0.45" textLength="239.7" lengthAdjust="spacingAndGlyphs">and trend line support</text>
<text class="ct" x="1086" y="646.5" font-family="'Liberation Sans', sans-serif" font-size="23" fill="#fff" stroke="#fff" stroke-width="0.45" textLength="113.4" lengthAdjust="spacingAndGlyphs">near .6700</text>
<text id="title" x="27.6" y="48.8" font-family="'Liberation Sans', sans-serif" font-size="28" fill="#000" stroke="#000" stroke-width="0.3" textLength="196.3" lengthAdjust="spacingAndGlyphs">AUD/USD: Daily</text>
<text class="pa" x="1869.7" y="19.8" font-family="'Liberation Sans', sans-serif" font-size="14" fill="#131722" textLength="49.8" lengthAdjust="spacingAndGlyphs">0.75000</text>
<text class="pa" x="1869.7" y="68.1" font-family="'Liberation Sans', sans-serif" font-size="14" fill="#131722" textLength="49.8" lengthAdjust="spacingAndGlyphs">0.74000</text>
<text class="pa" x="1869.7" y="116.4" font-family="'Liberation Sans', sans-serif" font-size="14" fill="#131722" textLength="49.8" lengthAdjust="spacingAndGlyphs">0.73000</text>
<text class="pa" x="1869.7" y="164.7" font-family="'Liberation Sans', sans-serif" font-size="14" fill="#131722" textLength="49.8" lengthAdjust="spacingAndGlyphs">0.72000</text>
<text class="pa" x="1869.7" y="213.0" font-family="'Liberation Sans', sans-serif" font-size="14" fill="#131722" textLength="49.8" lengthAdjust="spacingAndGlyphs">0.71000</text>
<text class="pa" x="1869.7" y="261.3" font-family="'Liberation Sans', sans-serif" font-size="14" fill="#131722" textLength="49.8" lengthAdjust="spacingAndGlyphs">0.70000</text>
<text class="pa" x="1869.7" y="309.6" font-family="'Liberation Sans', sans-serif" font-size="14" fill="#131722" textLength="49.8" lengthAdjust="spacingAndGlyphs">0.69000</text>
<text class="pa" x="1869.7" y="357.9" font-family="'Liberation Sans', sans-serif" font-size="14" fill="#131722" textLength="49.8" lengthAdjust="spacingAndGlyphs">0.68000</text>
<text class="pa" x="1869.7" y="406.2" font-family="'Liberation Sans', sans-serif" font-size="14" fill="#131722" textLength="49.8" lengthAdjust="spacingAndGlyphs">0.67000</text>
<text class="pa" x="1869.7" y="454.4" font-family="'Liberation Sans', sans-serif" font-size="14" fill="#131722" textLength="49.8" lengthAdjust="spacingAndGlyphs">0.66000</text>
<text class="pa" x="1869.7" y="502.7" font-family="'Liberation Sans', sans-serif" font-size="14" fill="#131722" textLength="49.8" lengthAdjust="spacingAndGlyphs">0.65000</text>
<text class="pa" x="1869.7" y="551.0" font-family="'Liberation Sans', sans-serif" font-size="14" fill="#131722" textLength="49.8" lengthAdjust="spacingAndGlyphs">0.64000</text>
<text class="pa" x="1869.7" y="599.3" font-family="'Liberation Sans', sans-serif" font-size="14" fill="#131722" textLength="49.8" lengthAdjust="spacingAndGlyphs">0.63000</text>
<text class="pa" x="1869.7" y="647.6" font-family="'Liberation Sans', sans-serif" font-size="14" fill="#131722" textLength="49.8" lengthAdjust="spacingAndGlyphs">0.62000</text>
<text class="pa" x="1869.7" y="695.9" font-family="'Liberation Sans', sans-serif" font-size="14" fill="#131722" textLength="49.8" lengthAdjust="spacingAndGlyphs">0.61000</text>
<text class="pa" x="1869.7" y="744.2" font-family="'Liberation Sans', sans-serif" font-size="14" fill="#131722" textLength="49.8" lengthAdjust="spacingAndGlyphs">0.60000</text>
<text class="pa" x="1869.7" y="792.5" font-family="'Liberation Sans', sans-serif" font-size="14" fill="#131722" textLength="49.8" lengthAdjust="spacingAndGlyphs">0.59000</text>
<text class="pa" x="1869.7" y="840.8" font-family="'Liberation Sans', sans-serif" font-size="14" fill="#131722" textLength="49.8" lengthAdjust="spacingAndGlyphs">0.58000</text>
<rect x="1800" y="317" width="125" height="21" rx="2" fill="#2ebd1e"/>
<rect x="1860" y="317" width="1" height="21" fill="#7bd66f" shape-rendering="crispEdges"/>
<text x="1805" y="332.3" font-family="'Liberation Sans', sans-serif" font-size="13.2" font-weight="bold" fill="#fff" textLength="50" lengthAdjust="spacingAndGlyphs">AUDUSD</text>
<text x="1870" y="332.3" font-family="'Liberation Sans', sans-serif" font-size="13.5" font-weight="bold" fill="#fff" textLength="49" lengthAdjust="spacingAndGlyphs">0.68536</text>
<text class="ta" x="51.4" y="876.4" text-anchor="middle" font-family="'Liberation Sans', sans-serif" font-size="13.5" fill="#131722">Apr</text>
<text class="ta" x="147.2" y="876.4" text-anchor="middle" font-family="'Liberation Sans', sans-serif" font-size="13.5" fill="#131722">May</text>
<text class="ta" x="243.2" y="876.4" text-anchor="middle" font-family="'Liberation Sans', sans-serif" font-size="13.5" fill="#131722">Jun</text>
<text class="ta" x="334.7" y="876.4" text-anchor="middle" font-family="'Liberation Sans', sans-serif" font-size="13.5" fill="#131722">Jul</text>
<text class="ta" x="435.2" y="876.4" text-anchor="middle" font-family="'Liberation Sans', sans-serif" font-size="13.5" fill="#131722">Aug</text>
<text class="ta" x="526.3" y="876.4" text-anchor="middle" font-family="'Liberation Sans', sans-serif" font-size="13.5" fill="#131722">Sep</text>
<text class="ta" x="622.3" y="876.4" text-anchor="middle" font-family="'Liberation Sans', sans-serif" font-size="13.5" fill="#131722">Oct</text>
<text class="ta" x="722.9" y="876.4" text-anchor="middle" font-family="'Liberation Sans', sans-serif" font-size="13.5" fill="#131722">Nov</text>
<text class="ta" x="810" y="876.4" text-anchor="middle" font-family="'Liberation Sans', sans-serif" font-size="13.5" fill="#131722">Dec</text>
<text class="ta" x="906" y="876.4" text-anchor="middle" font-family="'Liberation Sans', sans-serif" font-size="13.5" font-weight="bold" textLength="32" lengthAdjust="spacingAndGlyphs" fill="#131722">2026</text>
<text class="ta" x="997.2" y="876.4" text-anchor="middle" font-family="'Liberation Sans', sans-serif" font-size="13.5" fill="#131722">Feb</text>
<text class="ta" x="1084.3" y="876.4" text-anchor="middle" font-family="'Liberation Sans', sans-serif" font-size="13.5" fill="#131722">Mar</text>
<text class="ta" x="1180.5" y="876.4" text-anchor="middle" font-family="'Liberation Sans', sans-serif" font-size="13.5" fill="#131722">Apr</text>
<text class="ta" x="1276" y="876.4" text-anchor="middle" font-family="'Liberation Sans', sans-serif" font-size="13.5" fill="#131722">May</text>
<text class="ta" x="1367.9" y="876.4" text-anchor="middle" font-family="'Liberation Sans', sans-serif" font-size="13.5" fill="#131722">Jun</text>
<text class="ta" x="1463.5" y="876.4" text-anchor="middle" font-family="'Liberation Sans', sans-serif" font-size="13.5" fill="#131722">Jul</text>
<text class="ta" x="1563.9" y="876.4" text-anchor="middle" font-family="'Liberation Sans', sans-serif" font-size="13.5" fill="#131722">Aug</text>
<text class="ta" x="1655.7" y="876.4" text-anchor="middle" font-family="'Liberation Sans', sans-serif" font-size="13.5" fill="#131722">Sep</text>
<text class="ta" x="1751.5" y="876.4" text-anchor="middle" font-family="'Liberation Sans', sans-serif" font-size="13.5" fill="#131722">Oct</text>
<text class="ta" x="1847.4" y="876.4" text-anchor="middle" font-family="'Liberation Sans', sans-serif" font-size="13.5" fill="#131722">Nov</text>
<g fill="#131313">
<path d="M12,911H24V925.7H18V917H12Z"/>
<circle cx="28.9" cy="913.9" r="2.9"/>
<path d="M34,911H41.8L36.6,925.7H29.2Z"/>
<text id="tv" x="49" y="925.7" font-family="'Liberation Sans', sans-serif" font-size="20.4" font-weight="bold" textLength="120.5" lengthAdjust="spacingAndGlyphs">TradingView</text>
</g>
</svg>
</body></html>
